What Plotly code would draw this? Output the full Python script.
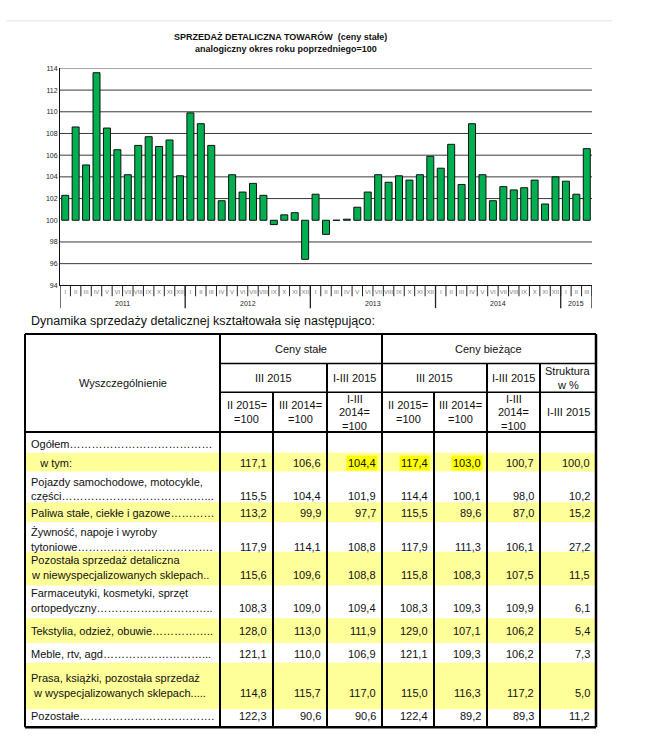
import plotly.graph_objects as go

W, H = 645, 750
FONT = "Liberation Sans, Arial, sans-serif"

# ---------------- chart data ----------------
months = ["I", "II", "III", "IV", "V", "VI", "VII", "VIII", "IX", "X", "XI", "XII"]
years = ["2011", "2012", "2013", "2014", "2015"]
sales_2011 = [102.3, 108.6, 105.1, 113.6, 108.5, 106.5, 104.2, 106.9, 107.7, 106.8, 107.4, 104.1]
sales_2012 = [109.9, 108.9, 106.9, 101.8, 104.2, 102.6, 103.4, 102.3, 99.6, 100.5, 100.7, 96.4]
sales_2013 = [102.4, 98.7, 100.0, 100.1, 101.2, 102.6, 104.2, 103.5, 104.1, 103.7, 104.2, 105.9]
sales_2014 = [104.8, 107.0, 103.3, 108.9, 104.2, 101.8, 103.1, 102.8, 103.0, 103.7, 101.5, 104.0]
sales_2015 = [103.6, 102.4, 106.6]
y_ticks = [94, 96, 98, 100, 102, 104, 106, 108, 110, 112, 114]
BASE = 100

# ---------------- table data ----------------
col_head_1 = ["Ceny stałe", "Ceny bieżące"]
col_head_2 = ["III 2015", "I-III 2015", "III 2015", "I-III 2015", "Struktura<br>w %"]
col_head_3 = ["II 2015=<br>=100", "III 2014=<br>=100", "I-III<br>2014=<br>=100",
              "II 2015=<br>=100", "III 2014=<br>=100", "I-III<br>2014=<br>=100", "I-III 2015"]
ELL = "…"
row_labels = [
    ["Ogółem" + ELL * 13],
    ["   w tym:"],
    ["Pojazdy samochodowe, motocykle,", "części" + ELL * 13 + "..."],
    ["Paliwa stałe, ciekłe i gazowe" + ELL * 4],
    ["Żywność, napoje i wyroby", "tytoniowe" + ELL * 12 + "."],
    ["Pozostała sprzedaż detaliczna", "w niewyspecjalizowanych sklepach.."],
    ["Farmaceutyki, kosmetyki, sprzęt", "ortopedyczny" + ELL * 10 + ".."],
    ["Tekstylia, odzież, obuwie" + ELL * 5 + ".."],
    ["Meble, rtv, agd" + ELL * 9 + "..."],
    ["Prasa, książki, pozostała sprzedaż", " w wyspecjalizowanych sklepach....."],
    ["Pozostałe" + ELL * 12 + "."],
]
stale_m_m = [None, 117.1, 115.5, 113.2, 117.9, 115.6, 108.3, 128.0, 121.1, 114.8, 122.3]
stale_r_r = [None, 106.6, 104.4, 99.9, 114.1, 109.6, 109.0, 113.0, 110.0, 115.7, 90.6]
stale_cum = [None, 104.4, 101.9, 97.7, 108.8, 108.8, 109.4, 111.9, 106.9, 117.0, 90.6]
biez_m_m = [None, 117.4, 114.4, 115.5, 117.9, 115.8, 108.3, 129.0, 121.1, 115.0, 122.4]
biez_r_r = [None, 103.0, 100.1, 89.6, 111.3, 108.3, 109.3, 107.1, 109.3, 116.3, 89.2]
biez_cum = [None, 100.7, 98.0, 87.0, 106.1, 107.5, 109.9, 106.2, 106.2, 117.2, 89.3]
struktura = [None, 100.0, 10.2, 15.2, 27.2, 11.5, 6.1, 5.4, 7.3, 5.0, 11.2]
table_cols = [stale_m_m, stale_r_r, stale_cum, biez_m_m, biez_r_r, biez_cum, struktura]

# ---------------- layout constants (pixels) ----------------
PLOT_L, PLOT_R, PLOT_T, PLOT_B = 60, 592, 65, 284
col_edges = [25, 220, 273, 327, 382, 434, 487, 540, 596]
head_edges = [333, 363, 392, 432]
row_edges = [432, 453, 472, 503, 523, 553, 587, 620, 645, 665, 712, 730]
row_text_y = [444, 463, 497, 514, 548, 576, 610, 633, 656, 695, 719]
yellow_rows = [1, 3, 5, 7, 9]
highlight_cells = [(1, 2), (1, 3), (1, 4)]
ROW_YELLOW = "#FFFF99"
HILITE = "#FFFF00"
HEAD_LS = 13.5


def px(x):
    return x / W


def py(y):
    return 1 - y / H


# ---------------- chart ----------------
cats, month_lbl, vals = [], [], []
year_spans = []
for yr, series in zip(years, [sales_2011, sales_2012, sales_2013, sales_2014, sales_2015]):
    start = len(cats)
    for m, v in zip(months, series):
        cats.append(f"{m} {yr}")
        month_lbl.append(m)
        vals.append(v)
    year_spans.append((yr, start, len(cats) - 1))

fig = go.Figure()
fig.add_trace(go.Bar(
    x=cats, y=[v - BASE for v in vals], base=BASE,
    marker=dict(color="#00B050", line=dict(color="#111111", width=1)),
    hovertext=[f"{c}: {v}" for c, v in zip(cats, vals)], hoverinfo="text",
))

shapes = []
annotations = []

# gridlines (no line at the base level, axis line at the bottom)
for g in y_ticks:
    if g in (BASE, y_ticks[0]):
        continue
    shapes.append(dict(type="line", xref="x domain", yref="y", x0=0, x1=1, y0=g, y1=g,
                       layer="below", line=dict(color="#3a3a3a", width=1)))

# month separators below the axis
for i in range(len(cats)):
    shapes.append(dict(type="line", xref="x", yref="paper", x0=i + 0.5, x1=i + 0.5,
                       y0=py(PLOT_B), y1=py(PLOT_B + 11), line=dict(color="#222", width=1)))
# year dividers
bounds = [-0.5] + [e + 0.5 for (_, _, e) in year_spans]
for b in bounds:
    shapes.append(dict(type="line", xref="x", yref="paper", x0=b, x1=b,
                       y0=py(PLOT_B), y1=py(PLOT_B + 23), line=dict(color="#222", width=1.3)))
for yr, s, e in year_spans:
    annotations.append(dict(x=(s + e) / 2, xref="x", y=py(302), yref="paper", text=yr,
                            showarrow=False, font=dict(family=FONT, size=7, color="#222"),
                            yanchor="middle"))

# top faint rule
shapes.append(dict(type="line", xref="paper", yref="paper", x0=px(6), x1=px(612),
                   y0=py(17), y1=py(17), line=dict(color="#e6e6e6", width=1)))

# titles
annotations.append(dict(x=px(280), y=py(33), xref="paper", yref="paper", showarrow=False,
                        yanchor="middle",
                        text="<b>SPRZEDAŻ DETALICZNA TOWARÓW  (ceny stałe)</b>",
                        font=dict(family=FONT, size=9, color="#111")))
annotations.append(dict(x=px(286), y=py(45), xref="paper", yref="paper", showarrow=False,
                        yanchor="middle",
                        text="<b>analogiczny okres roku poprzedniego=100</b>",
                        font=dict(family=FONT, size=9, color="#111")))
annotations.append(dict(x=px(29), y=py(320), xref="paper", yref="paper", showarrow=False,
                        xanchor="left", yanchor="middle",
                        text="Dynamika sprzedaży detalicznej kształtowała się następująco:",
                        font=dict(family=FONT, size=12.5, color="#111")))

# ---------------- table ----------------
L, R = col_edges[0], col_edges[-1]
TOP, BOT = head_edges[0], row_edges[-1]


def rect(x0, x1, y0, y1, fill):
    shapes.append(dict(type="rect", xref="paper", yref="paper", x0=px(x0), x1=px(x1),
                       y0=py(y0), y1=py(y1), fillcolor=fill, line=dict(width=0), layer="above"))


def hline(x0, x1, y, w=1.5):
    shapes.append(dict(type="line", xref="paper", yref="paper", x0=px(x0), x1=px(x1),
                       y0=py(y), y1=py(y), line=dict(color="black", width=w)))


def vline(x, y0, y1, w=2):
    shapes.append(dict(type="line", xref="paper", yref="paper", x0=px(x), x1=px(x),
                       y0=py(y0), y1=py(y1), line=dict(color="black", width=w)))


def text(x, y, s, xanchor="center", size=11, bg=None):
    a = dict(x=px(x), y=py(y), xref="paper", yref="paper", text=s, showarrow=False,
             xanchor=xanchor, yanchor="middle", font=dict(family=FONT, size=size, color="#111"))
    if bg:
        a.update(bgcolor=bg, borderpad=1)
    annotations.append(a)


def mtext(x, y, s, size=11):
    parts = s.split("<br>")
    n = len(parts)
    for k, p in enumerate(parts):
        text(x, y + (k - (n - 1) / 2) * HEAD_LS, p, size=size)


rect(L, R, TOP, BOT, "white")
for r in yellow_rows:
    rect(L, R, row_edges[r], row_edges[r + 1], ROW_YELLOW)

# header grid
hline(col_edges[1], R, head_edges[1])
hline(col_edges[1], R, head_edges[2])
hline(L, R, head_edges[3], 2)
vline(col_edges[1], TOP, BOT)
vline(col_edges[4], TOP, BOT)
for c in (3, 6, 7):
    vline(col_edges[c], head_edges[1], BOT)
for c in (2, 5):
    vline(col_edges[c], head_edges[2], BOT)
# outer frame
hline(L, R, TOP, 2)
hline(L, R, BOT, 2.5)
vline(L, TOP, BOT, 2)
vline(R, TOP, BOT, 2.5)

# header text
hmid = lambda a, b: (a + b) / 2
mtext(hmid(L, col_edges[1]), hmid(TOP, head_edges[3]), "Wyszczególnienie")
mtext(hmid(col_edges[1], col_edges[4]), hmid(head_edges[0], head_edges[1]), col_head_1[0])
mtext(hmid(col_edges[4], R), hmid(head_edges[0], head_edges[1]), col_head_1[1])
spans2 = [(1, 3), (3, 4), (4, 6), (6, 7), (7, 8)]
for (a, b), s in zip(spans2, col_head_2):
    mtext(hmid(col_edges[a], col_edges[b]), hmid(head_edges[1], head_edges[2]), s)
for c, s in enumerate(col_head_3):
    mtext(hmid(col_edges[c + 1], col_edges[c + 2]), hmid(head_edges[2], head_edges[3]), s)

# body
for r, lines in enumerate(row_labels):
    yb = row_text_y[r]
    n = len(lines)
    for k, line in enumerate(lines):
        text(29, yb - 15 * (n - 1 - k), line, xanchor="left")
    for c, col in enumerate(table_cols):
        v = col[r]
        if v is None:
            continue
        s = f"{v:.1f}".replace(".", ",")
        bg = HILITE if (r, c) in highlight_cells else None
        text(col_edges[c + 2] - 4, yb, s, xanchor="right", bg=bg)

fig.update_layout(
    width=W, height=H, margin=dict(l=0, r=0, t=0, b=0),
    paper_bgcolor="white", plot_bgcolor="white", showlegend=False,
    bargap=0.33,
    xaxis=dict(domain=[px(PLOT_L), px(PLOT_R)], type="category", categoryorder="array",
               categoryarray=cats, tickvals=cats, ticktext=month_lbl, range=[-0.5, len(cats) - 0.5],
               showline=True, linecolor="#111", linewidth=1, ticks="", showgrid=False,
               tickfont=dict(family=FONT, size=6, color="#7a7a7a"), tickangle=0, fixedrange=True),
    yaxis=dict(domain=[py(PLOT_B), py(PLOT_T)], range=[y_ticks[0], y_ticks[-1]], tickvals=y_ticks,
               showline=True, linecolor="#111", linewidth=1, ticks="", showgrid=False, zeroline=False,
               tickfont=dict(family=FONT, size=7, color="#222"), fixedrange=True),
    shapes=shapes, annotations=annotations,
)

fig.write_html("out.html", config={"displayModeBar": False},
               post_script="document.body.style.margin='0px';")
